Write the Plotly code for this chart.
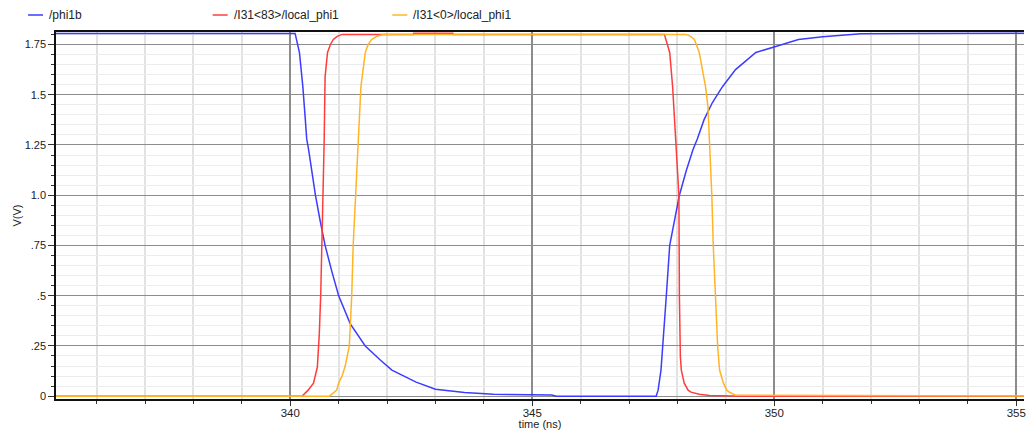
import plotly.graph_objects as go

# Transient waveforms (time in ns, voltage in V)
phi1b_t = [335.0, 340.10, 340.19, 340.26, 340.31, 340.34, 340.38, 340.45, 340.52, 340.62,
           340.72, 340.86, 341.00, 341.24, 341.55, 341.86, 342.10, 342.60, 343.00, 343.60,
           344.20, 345.40, 345.50, 347.56, 347.60, 347.66, 347.70, 347.77, 347.84, 347.94,
           348.04, 348.18, 348.32, 348.41, 348.55, 348.72, 348.93, 349.20, 349.62, 350.03,
           350.50, 351.00, 351.37, 351.79, 353.00, 356.00]
phi1b_v = [1.805, 1.805, 1.71, 1.54, 1.38, 1.28, 1.226, 1.11, 1.0, 0.87,
           0.75, 0.62, 0.50, 0.36, 0.25, 0.18, 0.13, 0.07, 0.035, 0.018,
           0.010, 0.006, 0.0, 0.0, 0.03, 0.13, 0.25, 0.50, 0.75, 0.87,
           1.0, 1.12, 1.226, 1.28, 1.376, 1.46, 1.54, 1.625, 1.71, 1.74,
           1.775, 1.788, 1.795, 1.803, 1.805, 1.806]

i83_t = [335.0, 340.24, 340.37, 340.48, 340.56, 340.60, 340.63, 340.68, 340.70, 340.72,
         340.77, 340.83, 340.89, 340.97, 341.07, 342.54, 342.55, 343.36, 343.37, 347.73,
         347.84, 347.90, 347.98, 348.03, 348.04, 348.05, 348.06, 348.08, 348.11, 348.14,
         348.22, 348.28, 348.45, 348.66, 349.40, 356.0]
i83_v = [0.0, 0.0, 0.03, 0.065, 0.145, 0.31, 0.51, 1.0, 1.26, 1.59,
         1.71, 1.75, 1.775, 1.79, 1.80, 1.80, 1.806, 1.806, 1.80, 1.80,
         1.71, 1.54, 1.226, 1.0, 0.5, 0.25, 0.196, 0.13, 0.096, 0.065,
         0.03, 0.02, 0.01, 0.003, 0.0, 0.0]

i0_t = [335.0, 340.81, 340.96, 341.00, 341.07, 341.13, 341.22, 341.27, 341.30, 341.35,
        341.39, 341.42, 341.46, 341.55, 341.61, 341.68, 341.80, 341.92, 348.18, 348.27,
        348.35, 348.45, 348.58, 348.63, 348.66, 348.68, 348.71, 348.74, 348.78, 348.83,
        348.87, 348.95, 349.02, 349.07, 349.20, 356.0]
i0_v = [0.0, 0.0, 0.03, 0.065, 0.10, 0.145, 0.25, 0.50, 0.75, 1.0,
        1.226, 1.38, 1.54, 1.71, 1.75, 1.775, 1.792, 1.80, 1.80, 1.79,
        1.775, 1.71, 1.54, 1.44, 1.28, 1.226, 1.0, 0.75, 0.5, 0.25,
        0.13, 0.065, 0.03, 0.02, 0.005, 0.0]

series_names = ["/phi1b", "/I31<83>/local_phi1", "/I31<0>/local_phi1"]
series_colors = ["#3c3cff", "#ff3c3c", "#ffb428"]
series_data = [(phi1b_t, phi1b_v), (i83_t, i83_v), (i0_t, i0_v)]

y_tickvals = [0, 0.25, 0.5, 0.75, 1.0, 1.25, 1.5, 1.75]
y_ticktext = ["0", ".25", ".5", ".75", "1.0", "1.25", "1.5", "1.75"]
x_tickvals = [340, 345, 350, 355]

W, H = 1026, 430
ML, MR, MT, MB = 56, 0, 32, 31
FONT = "Liberation Sans, Arial, sans-serif"
INK = "#222222"

fig = go.Figure()
for (t, v), name, color in zip(series_data, series_names, series_colors):
    fig.add_trace(go.Scatter(x=t, y=v, mode="lines", name=name,
                             line=dict(color=color, width=1.5), showlegend=False))

# Legend row along the top edge: short coloured stroke followed by the trace name
plot_w = W - ML - MR
plot_h = H - MT - MB
legend_x_px = [28, 213, 393]
legend_y_px = 15
for name, color, lx in zip(series_names, series_colors, legend_x_px):
    x0 = (lx - ML) / plot_w
    x1 = (lx + 15 - ML) / plot_w
    yp = (H - MB - legend_y_px) / plot_h
    fig.add_shape(type="line", xref="paper", yref="paper", x0=x0, x1=x1, y0=yp, y1=yp,
                  line=dict(color=color, width=1.5))
    fig.add_annotation(xref="paper", yref="paper", x=(lx + 19 - ML) / plot_w, y=yp,
                       text=name, showarrow=False, xanchor="left", yanchor="middle",
                       font=dict(family=FONT, size=12, color=INK))

fig.update_layout(
    width=W, height=H,
    margin=dict(l=ML, r=MR, t=MT, b=MB, pad=0),
    paper_bgcolor="white", plot_bgcolor="white",
    font=dict(family=FONT, size=11, color=INK),
)

fig.update_xaxes(
    range=[335.16, 355.16],
    tickvals=x_tickvals, ticktext=[str(v) for v in x_tickvals],
    ticks="outside", ticklen=5, tickcolor="#333", tickwidth=1,
    ticklabeloverflow="allow", ticklabelstandoff=-3,
    showline=True, linecolor="#111", linewidth=1.5, mirror=True,
    showgrid=True, gridcolor="#8c8c8c", gridwidth=1.6,
    zeroline=False,
    tickfont=dict(size=11.5),
    minor=dict(dtick=1, showgrid=True, gridcolor="#e2e2e2", gridwidth=1.8,
               ticks="outside", ticklen=3, tickcolor="#333"),
    title=dict(text="time (ns)", font=dict(size=11), standoff=4),
)

fig.update_yaxes(
    range=[-0.014, 1.812],
    tickvals=y_tickvals, ticktext=y_ticktext,
    ticks="outside", ticklen=6, tickcolor="#333", tickwidth=1,
    showline=True, linecolor="#111", linewidth=1.5,
    showgrid=True, gridcolor="#8c8c8c", gridwidth=1.4,
    zeroline=False,
    tickfont=dict(size=11),
    minor=dict(dtick=0.05, tick0=0, showgrid=True, gridcolor="#ececec", gridwidth=1,
               ticks="outside", ticklen=3, tickcolor="#333"),
    title=dict(text="V(V)", font=dict(size=11), standoff=1),
)

fig.write_html("out.html")
